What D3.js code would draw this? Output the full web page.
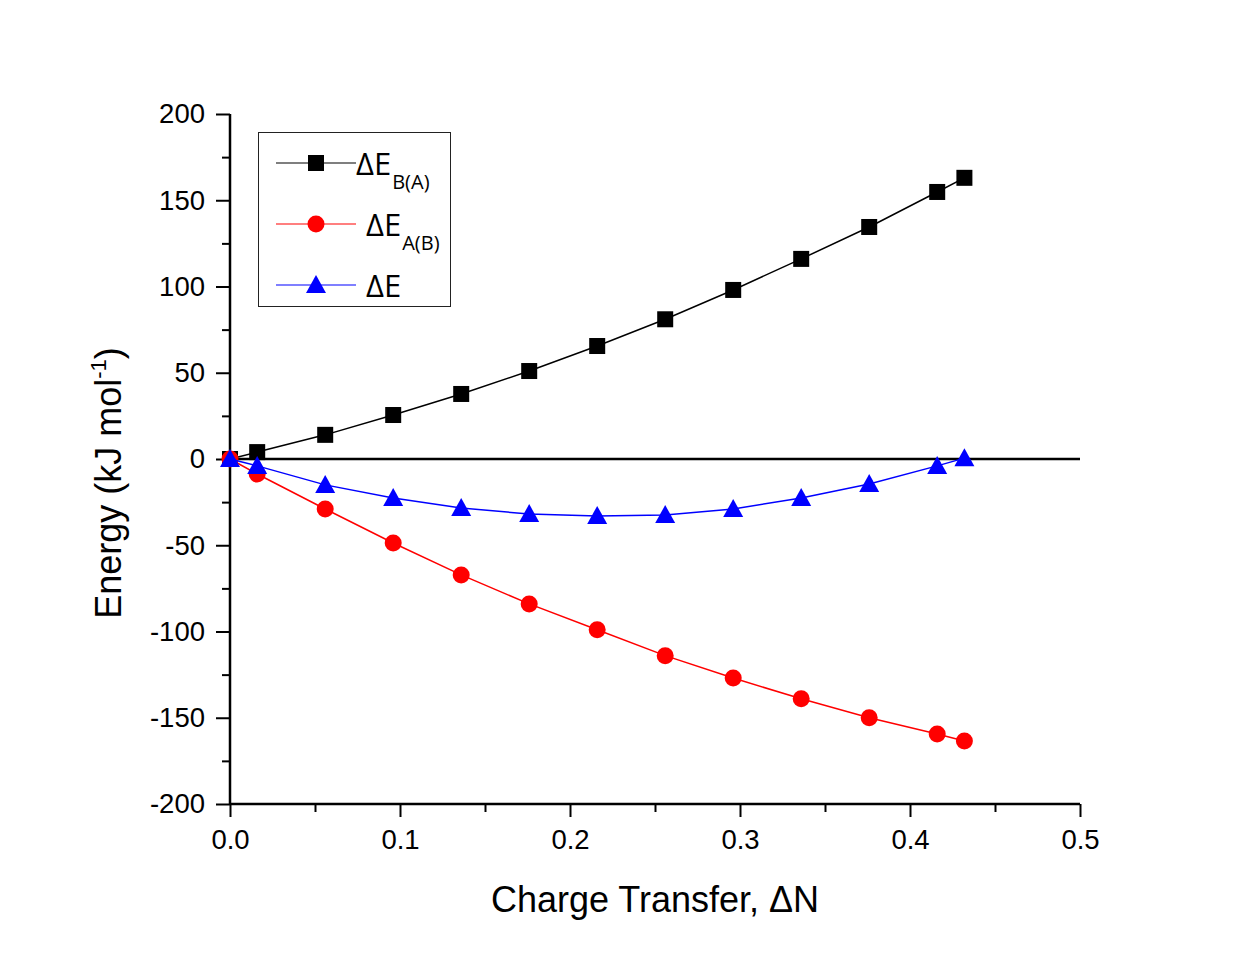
<!DOCTYPE html>
<html><head><meta charset="utf-8">
<script src="https://cdn.jsdelivr.net/npm/d3@7"></script>
<style>body{margin:0;background:#fff}</style>
</head><body>
<svg id="c" width="1239" height="958"></svg>
<script>
const xVals = [0, 0.016, 0.056, 0.096, 0.136, 0.176, 0.216, 0.256, 0.296, 0.336, 0.376, 0.416, 0.432];
const eBA = [0, 4, 14, 25.5, 37.7, 51, 65.5, 81, 98, 116, 134.5, 154.8, 163];
const eAB = [0, -8.7, -29, -48.7, -67.2, -84, -99, -114, -127, -139, -150, -159.4, -163.5];
const eTot = [0, -4, -15, -22.6, -28.4, -31.9, -33, -32.5, -29, -22.6, -14.5, -4, 0.5];
const xTicks = [0, 0.1, 0.2, 0.3, 0.4, 0.5];
const yTicks = [-200, -150, -100, -50, 0, 50, 100, 150, 200];

const svg = d3.select('#c');
const x = d3.scaleLinear().domain([0, 0.5]).range([230, 1080]);
const y = d3.scaleLinear().domain([-200, 200]).range([804, 114]);
const tickFont = 'Liberation Sans, Arial, sans-serif';

const yMinor = d3.range(-175, 200, 50);
const xMinor = d3.range(0.05, 0.5, 0.1);

const yAxis = d3.axisLeft(y).tickValues(yTicks).tickSize(14).tickPadding(11).tickFormat(d => String(d));
const gy = svg.append('g').attr('transform', 'translate(230,0)').call(yAxis);
gy.selectAll('text').attr('font-size', 27.5).attr('font-family', tickFont).attr('fill', '#000');
gy.selectAll('line').attr('stroke-width', 2);
gy.select('.domain').attr('stroke-width', 2.5).attr('d', `M0,${y(-200)}V${y(200)}`);
svg.append('g').attr('transform', 'translate(230,0)').call(d3.axisLeft(y).tickValues(yMinor).tickSize(8).tickFormat(''))
  .call(g => { g.select('.domain').remove(); g.selectAll('line').attr('stroke-width', 2); });

const xAxis = d3.axisBottom(x).tickValues(xTicks).tickSize(13).tickPadding(12).tickFormat(d3.format('.1f'));
const gx = svg.append('g').attr('transform', `translate(0,${y(-200)})`).call(xAxis);
gx.selectAll('text').attr('font-size', 27.5).attr('font-family', tickFont).attr('fill', '#000');
gx.selectAll('line').attr('stroke-width', 2);
gx.select('.domain').attr('stroke-width', 2.5).attr('d', `M${x(0)},0H${x(0.5)}`);
svg.append('g').attr('transform', `translate(0,${y(-200)})`).call(d3.axisBottom(x).tickValues(xMinor).tickSize(8).tickFormat(''))
  .call(g => { g.select('.domain').remove(); g.selectAll('line').attr('stroke-width', 2); });

svg.append('line').attr('x1', x(0)).attr('x2', x(0.5)).attr('y1', y(0)).attr('y2', y(0))
  .attr('stroke', '#000').attr('stroke-width', 2.5);

const series = [
  {vals: eBA, color: '#000', shape: 'square'},
  {vals: eAB, color: '#ff0000', shape: 'circle'},
  {vals: eTot, color: '#0000ff', shape: 'triangle'}
];
function drawMarker(g, shape, color, cx, cy) {
  if (shape === 'square') g.append('rect').attr('x', cx - 8).attr('y', cy - 8).attr('width', 16).attr('height', 16).attr('fill', color);
  else if (shape === 'circle') g.append('circle').attr('cx', cx).attr('cy', cy).attr('r', 8.5).attr('fill', color);
  else g.append('path').attr('d', `M${cx},${cy - 10}L${cx + 10},${cy + 8}L${cx - 10},${cy + 8}Z`).attr('fill', color);
}
const line = d3.line().x((d, i) => x(xVals[i])).y(d => y(d));
series.forEach(s => {
  svg.append('path').attr('d', line(s.vals)).attr('fill', 'none').attr('stroke', s.color).attr('stroke-width', 1.5);
  const g = svg.append('g');
  s.vals.forEach((v, i) => drawMarker(g, s.shape, s.color, x(xVals[i]), y(v)));
});

const leg = svg.append('g');
leg.append('rect').attr('x', 258.5).attr('y', 132.5).attr('width', 192).attr('height', 174).attr('fill', '#fff').attr('stroke', '#222').attr('stroke-width', 1);
const legItems = [
  {color: '#000', shape: 'square', main: 'ΔE', sub: 'B(A)', ly: 163, tx: 356},
  {color: '#ff0000', shape: 'circle', main: 'ΔE', sub: 'A(B)', ly: 224, tx: 366},
  {color: '#0000ff', shape: 'triangle', main: 'ΔE', sub: '', ly: 285, tx: 366}
];
const legFont = 'Open Sans, Noto Sans, sans-serif';
legItems.forEach(it => {
  leg.append('line').attr('x1', 276).attr('x2', 356).attr('y1', it.ly).attr('y2', it.ly).attr('stroke', it.color).attr('stroke-width', 1.2);
  drawMarker(leg, it.shape, it.color, 316, it.ly);
  const t = leg.append('text').attr('x', it.tx).attr('y', it.ly + 12).attr('font-size', 31).attr('font-family', legFont).attr('fill', '#000');
  t.append('tspan').text(it.main);
  if (it.sub) t.append('tspan').attr('font-size', 20).attr('dy', 14).attr('dx', 1).text(it.sub);
});

svg.append('text').attr('x', 655).attr('y', 912).attr('text-anchor', 'middle').attr('font-size', 36)
  .attr('font-family', tickFont).text('Charge Transfer, ΔN');
const yt = svg.append('text').attr('transform', 'translate(121,483) rotate(-90)').attr('text-anchor', 'middle')
  .attr('font-size', 36).attr('font-family', tickFont);
yt.append('tspan').text('Energy (kJ mol');
yt.append('tspan').attr('font-size', 22).attr('dy', -15).text('-1');
yt.append('tspan').attr('dy', 15).text(')');
</script>
</body></html>
